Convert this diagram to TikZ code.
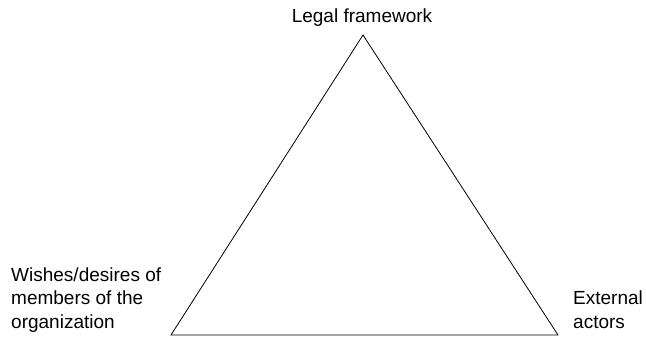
\documentclass[tikz,border=0pt]{standalone}
\usepackage{fontspec}
\setmainfont{Liberation Sans}
\begin{document}
\begin{tikzpicture}[x=1pt,y=-1pt,
  label text/.style={inner sep=0pt, font=\fontsize{19}{23.5}\selectfont, align=left},
  edge line/.style={line width=0.8pt, line join=miter}]
  \useasboundingbox (0,0) rectangle (646,338);
  % corners of the triangle
  \coordinate (apex) at (363,35);
  \coordinate (left) at (171,335);
  \coordinate (right) at (558,335);
  \draw[edge line] (apex) -- (left) -- (right) -- cycle;
  % corner labels (multi-line nodes are anchored at the last baseline)
  \node[label text, anchor=base] (legal) at (362,22) {Legal framework};
  \node[label text, anchor=base west] (wishes) at (11,328) {Wishes/desires of\\members of the\\organization};
  \node[label text, anchor=base west] (external) at (573,328) {External\\actors};
\end{tikzpicture}
\end{document}
